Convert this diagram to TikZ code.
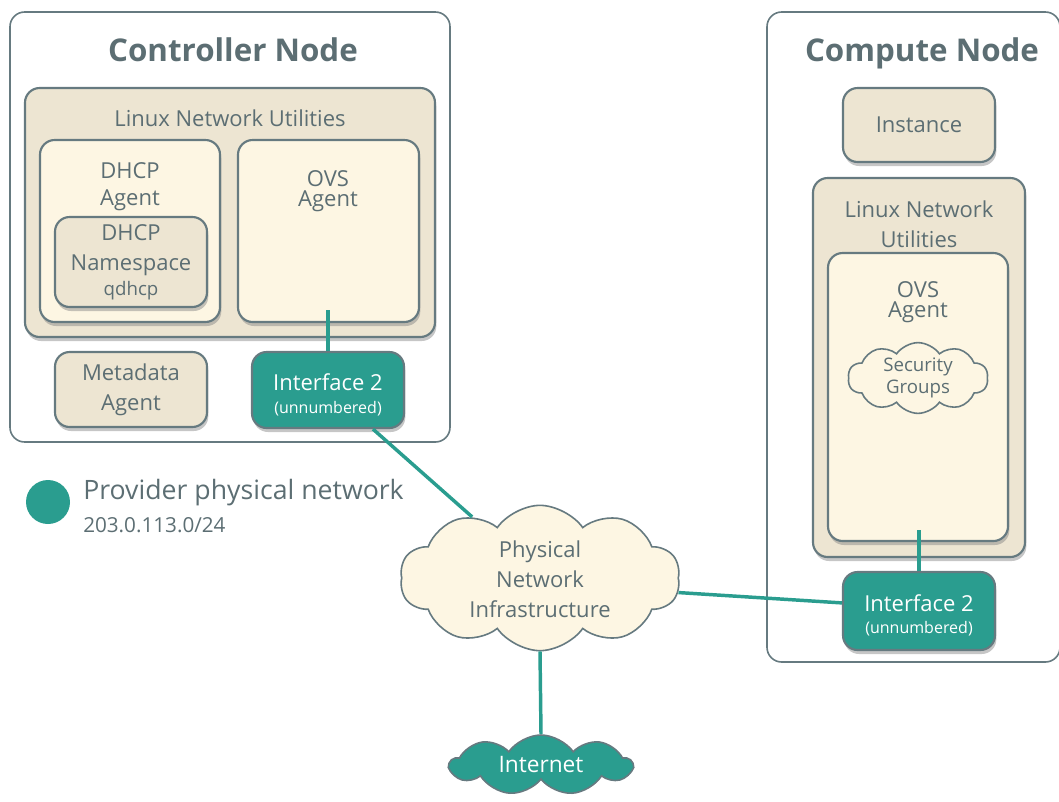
\documentclass[tikz,border=0pt]{standalone}
\usepackage{fontspec}
\setmainfont{Open Sans}
\usetikzlibrary{shapes.symbols,shadows}

\definecolor{rimgray}{RGB}{102,122,128}
\definecolor{inkgray}{RGB}{92,110,115}
\definecolor{netteal}{RGB}{42,157,143}
\definecolor{tanfill}{RGB}{237,229,210}
\definecolor{creamfill}{RGB}{253,246,227}

\begin{document}
\begin{tikzpicture}[x=0.75pt,y=0.75pt,yscale=-1,xscale=1,
	boxshadow/.style={drop shadow={opacity=0.45, shadow xshift=1pt, shadow yshift=-3pt}},
	hostbox/.style={draw=rimgray, line width=1.2pt, rounded corners=11pt, inner sep=0pt},
	tanbox/.style={draw=rimgray, line width=1.6pt, rounded corners=11pt, fill=tanfill, inner sep=0pt, boxshadow},
	creambox/.style={draw=rimgray, line width=1.6pt, rounded corners=11pt, fill=creamfill, inner sep=0pt, boxshadow},
	ifcbox/.style={draw=rimgray, line width=1.6pt, rounded corners=11pt, fill=netteal, inner sep=0pt, boxshadow},
	cloudnode/.style={cloud, cloud puffs=10, cloud puff arc=110, cloud ignores aspect, draw=rimgray, line width=1.2pt, align=center, text=inkgray, inner sep=0pt},
	lbl/.style={text=inkgray, align=center, font=\fontsize{16.5}{22.5}\selectfont, inner sep=0pt},
	ifclbl/.style={lbl, text=white, font=\fontsize{16.5}{19}\selectfont},
	titlelbl/.style={lbl, anchor=base, font=\bfseries\fontsize{23.5}{28}\selectfont},
	wire/.style={draw=netteal, line width=2.6pt}
	]
	\useasboundingbox (0,0) rectangle (1059,801);
	
	%Host Boxes
	\node (ctrl) [hostbox, minimum width=330pt, minimum height=322.5pt] at (230,227) {};
	\node (comp) [hostbox, minimum width=219.75pt, minimum height=487.5pt] at (913.5,337) {};
	
	%Controller Node
	\node (lnuA) [tanbox, minimum width=307.5pt, minimum height=186.75pt] at (230,212.5) {};
	\node (dhcpA) [creambox, minimum width=135pt, minimum height=136.5pt] at (130,231) {};
	\node (nsA) [lbl, tanbox, minimum width=114pt, minimum height=67.5pt] at (131,262) {DHCP\\Namespace\\[-4pt]{\fontsize{14}{16}\selectfont qdhcp}};
	\node (ovsA) [creambox, minimum width=135.75pt, minimum height=136.5pt] at (328.5,231) {};
	\node (metaA) [lbl, tanbox, minimum width=114pt, minimum height=56.25pt] at (131,389.5) {Metadata\\Agent};
	\node (ifcA) [ifcbox, minimum width=114pt, minimum height=57pt] at (328,390) {};
	
	% Text Node
	\node (ctrlT) [titlelbl] at (233,61) {Controller Node};
	% Text Node
	\node (lnuAT) [lbl] at (230,118) {Linux Network Utilities};
	% Text Node
	\node (dhcpAT) [lbl] at (130,187) {DHCP\\[-2pt]Agent};
	% Text Node
	\node (ovsAT) [lbl] at (328,191) {OVS\\[-7pt]Agent};
	% Text Node
	\node (ifcAT) [ifclbl] at (328,395) {Interface 2\\[-2.25pt]{\fontsize{12}{14}\selectfont (unnumbered)}};
	
	%Compute Node
	\node (inst) [lbl, tanbox, minimum width=114pt, minimum height=55.5pt] at (919,125) {Instance};
	\node (lnuB) [tanbox, minimum width=159pt, minimum height=284.25pt] at (919,367.5) {};
	\node (ovsB) [creambox, minimum width=135pt, minimum height=216pt] at (918,397) {};
	\node (secg) [cloudnode, fill=creamfill, font=\fontsize{14}{17}\selectfont, minimum width=105pt, minimum height=50pt] at (918,378) {Security\\Groups};
	\node (ifcB) [ifcbox, minimum width=114pt, minimum height=58.5pt] at (919,611) {};
	
	% Text Node
	\node (compT) [titlelbl] at (922,61) {Compute Node};
	% Text Node
	\node (lnuBT) [lbl] at (919,224) {Linux Network\\Utilities};
	% Text Node
	\node (ovsBT) [lbl] at (918,302) {OVS\\[-7pt]Agent};
	% Text Node
	\node (ifcBT) [ifclbl] at (919,615) {Interface 2\\[-2.25pt]{\fontsize{12}{14}\selectfont (unnumbered)}};
	
	%Clouds
	\node (phys) [cloudnode, fill=creamfill, font=\fontsize{16.5}{22.5}\selectfont, minimum width=210pt, minimum height=109pt] at (540,578) {\\[-8pt]Physical\\Network\\Infrastructure};
	\node (inet) [cloudnode, cloud puffs=9, fill=netteal, text=white, font=\fontsize{17}{20}\selectfont, minimum width=136.5pt, minimum height=45pt] at (541,765) {Internet};
	
	%Legend
	\node (legdot) [circle, fill=netteal, minimum size=33pt, inner sep=0pt] at (48,502) {};
	% Text Node
	\node (legT) [lbl, anchor=west, font=\fontsize{20}{24}\selectfont] at (83,493) {Provider physical network};
	% Text Node
	\node (legS) [lbl, anchor=west, font=\fontsize{15.5}{18}\selectfont] at (83,525) {203.0.113.0/24};
	
	%Straight Lines
	\coordinate (ovsAtap) at (328,310);
	\coordinate (ovsBtap) at (919,530);
	\draw [wire] (ovsAtap) -- (ifcA.north);
	\draw [wire] (ovsBtap) -- (ifcB.north);
	\draw [wire] (ifcA.-41) -- (phys.138);
	\draw [wire] (phys.-6) -- (ifcB.174);
	\draw [wire] (phys.south) -- (inet.north);
	
\end{tikzpicture}
\end{document}
